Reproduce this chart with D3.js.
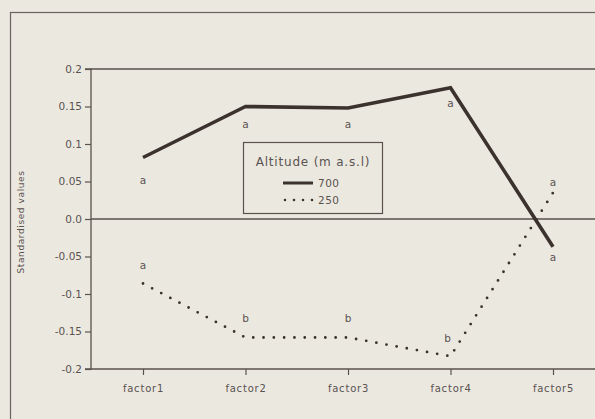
<!DOCTYPE html>
<html><head><meta charset="utf-8">
<script src="https://cdn.jsdelivr.net/npm/d3@7"></script>
<style>
html,body{margin:0;padding:0;background:#ebe8e0;}
svg{display:block;}
text{font-family:"DejaVu Sans",sans-serif;fill:#5a5350;}
</style></head>
<body><svg id="c" width="595" height="419"></svg>
<script>
const categories = ["factor 1","factor 2","factor 3","factor 4","factor 5"];
const alt700 = [0.082, 0.150, 0.148, 0.175, -0.037];
const alt250 = [-0.086, -0.158, -0.158, -0.183, 0.035];
const letters700 = ["a","a","a","a","a"];
const letters250 = ["a","b","b","b","a"];
const letterY700 = [0.051, 0.125, 0.125, 0.153, -0.052];
const letterY250 = [-0.062, -0.133, -0.133, -0.160, 0.048];
const yTicks = [0.2, 0.15, 0.1, 0.05, 0.0, -0.05, -0.1, -0.15, -0.2];
const yTickLabels = ["0.2","0.15","0.1","0.05","0.0","-0.05","-0.1","-0.15","-0.2"];
const legendTitle = "Altitude (m a.s.l)";
const seriesNames = ["700","250"];

(function(){
const svg = d3.select("#c");
const ink = "#3b322e";
const txt = "#5a5350";
const font = "DejaVu Sans, sans-serif";
const mLeft = 91, mRight = 600, mTop = 69, mBottom = 369;

const x = d3.scalePoint().domain(categories).range([143, 553]);
const y = d3.scaleLinear().domain([-0.2, 0.2]).range([mBottom, mTop]);

// outer frame
svg.append("rect").attr("x",10.5).attr("y",12.5).attr("width",600).attr("height",420)
  .attr("fill","none").attr("stroke","#6a625c").attr("stroke-width",1.2);

// top line, zero line
svg.append("line").attr("x1",mLeft).attr("x2",mRight).attr("y1",y(0.2)).attr("y2",y(0.2))
  .attr("stroke","#5a524c").attr("stroke-width",1.3);
svg.append("line").attr("x1",mLeft).attr("x2",mRight).attr("y1",y(0)).attr("y2",y(0))
  .attr("stroke","#5a524c").attr("stroke-width",1.3);

// y axis
const yAxis = d3.axisLeft(y).tickValues(yTicks).tickFormat((d,i)=>yTickLabels[i]).tickSize(6).tickPadding(3);
const gy = svg.append("g").attr("transform",`translate(${mLeft},0)`).call(yAxis);
gy.select(".domain").attr("stroke","#5a524c").attr("stroke-width",1.3).attr("d",`M-6,${mTop}H0V${mBottom}H-6`);
gy.selectAll(".tick line").attr("stroke","#5a524c").attr("stroke-width",1.2);
gy.selectAll(".tick text").attr("font-size",10.5).attr("fill",txt).attr("font-family",font);

// x axis
const xAxis = d3.axisBottom(x).tickSize(6).tickPadding(10).tickFormat(d=>d.replace(" ",""));
const gx = svg.append("g").attr("transform",`translate(0,${mBottom})`).call(xAxis);
gx.select(".domain").attr("stroke","#5a524c").attr("stroke-width",1.3).attr("d",`M${mLeft},0H${mRight}`);
gx.selectAll(".tick line").attr("stroke","#5a524c").attr("stroke-width",1.2);
gx.selectAll(".tick text").attr("font-size",10).attr("letter-spacing",0.8).attr("fill",txt)
  .attr("font-family",font);

// y label
svg.append("text").attr("transform","translate(24,222) rotate(-90)")
  .attr("text-anchor","middle").attr("font-size",9).attr("letter-spacing",0.6)
  .text("Standardised values");

const line = d3.line().x((d,i)=>x(categories[i])).y(d=>y(d));

svg.append("path").datum(alt700).attr("d",line).attr("fill","none")
  .attr("stroke",ink).attr("stroke-width",3.6).attr("stroke-linejoin","miter");
svg.append("path").datum(alt250).attr("d",line).attr("fill","none")
  .attr("stroke",ink).attr("stroke-width",2.8).attr("stroke-linecap","round")
  .attr("stroke-dasharray","0 10.3");

// letters
svg.selectAll(".l7").data(letters700).join("text").attr("class","l7")
  .attr("x",(d,i)=>x(categories[i])).attr("y",(d,i)=>y(letterY700[i]))
  .attr("text-anchor","middle").attr("dominant-baseline","middle").attr("font-size",10.5)
  .text(d=>d);
svg.selectAll(".l2").data(letters250).join("text").attr("class","l2")
  .attr("x",(d,i)=>x(categories[i]) + (i===3?-3:0)).attr("y",(d,i)=>y(letterY250[i]))
  .attr("text-anchor","middle").attr("dominant-baseline","middle").attr("font-size",10.5)
  .text(d=>d);

// legend
const lg = svg.append("g").attr("transform","translate(243,142)");
lg.append("rect").attr("x",0.5).attr("y",0.5).attr("width",139).attr("height",71)
  .attr("fill","#ebe8e0").attr("stroke","#5a524c").attr("stroke-width",1.2);
lg.append("text").attr("x",70).attr("y",24).attr("text-anchor","middle").attr("font-size",12)
  .attr("letter-spacing",0.8).text(legendTitle);
lg.append("line").attr("x1",40).attr("x2",70).attr("y1",41).attr("y2",41)
  .attr("stroke",ink).attr("stroke-width",3);
lg.append("text").attr("x",75).attr("y",45).attr("font-size",10.5).attr("letter-spacing",0.5)
  .text(seriesNames[0]);
lg.append("line").attr("x1",42).attr("x2",70).attr("y1",58).attr("y2",58)
  .attr("stroke",ink).attr("stroke-width",2.6).attr("stroke-linecap","round").attr("stroke-dasharray","0 9");
lg.append("text").attr("x",75).attr("y",62).attr("font-size",10.5).attr("letter-spacing",0.5)
  .text(seriesNames[1]);
})();
</script></body></html>
